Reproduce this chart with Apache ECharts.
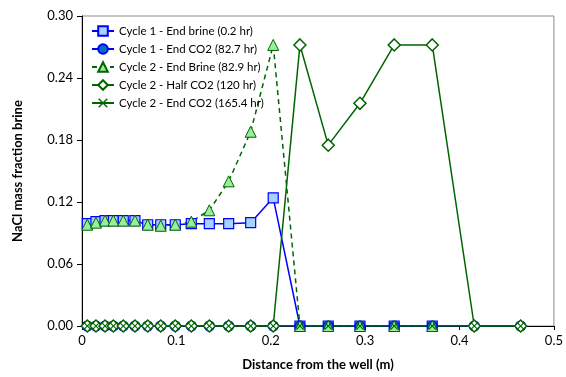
<!DOCTYPE html>
<html>
<head>
<meta charset="utf-8">
<script src="https://cdn.jsdelivr.net/npm/echarts@6/dist/echarts.min.js"></script>
<style>
  html, body { margin: 0; padding: 0; background: #fff; }
  #nacl-chart { width: 566px; height: 377px; }
</style>
</head>
<body>
<div id="nacl-chart"></div>
<script>
// distance from the well (m), one entry per grid cell
const distance = [0.0056, 0.0148, 0.0244, 0.0332, 0.0437, 0.0561, 0.0696, 0.0834, 0.0988, 0.1158,
  0.1349, 0.1554, 0.1787, 0.2026, 0.2309, 0.2609, 0.2945, 0.3308, 0.3711, 0.4156, 0.4647]

const cycle1EndBrine = [0.099, 0.101, 0.102, 0.102, 0.102, 0.102, 0.098, 0.098, 0.098, 0.099,
  0.099, 0.099, 0.100, 0.124, 0, 0, 0, 0, 0]
const cycle1EndCO2 = [0, 0, 0, 0, 0, 0, 0, 0, 0, 0, 0, 0, 0, 0, 0, 0, 0, 0, 0, 0, 0]
const cycle2EndBrine = [0.098, 0.100, 0.102, 0.102, 0.102, 0.102, 0.098, 0.097, 0.098, 0.101,
  0.112, 0.140, 0.188, 0.272, 0, 0, 0, 0, 0]
const cycle2HalfCO2 = [0, 0, 0, 0, 0, 0, 0, 0, 0, 0, 0, 0, 0, 0, 0.272, 0.175, 0.2155, 0.272, 0.272, 0, 0]
const cycle2EndCO2 = [0, 0, 0, 0, 0, 0, 0, 0, 0, 0, 0, 0, 0, 0, 0, 0, 0, 0, 0, 0, 0]

const seriesNames = [
  'Cycle 1 - End brine (0.2 hr)',
  'Cycle 1 - End CO2 (82.7 hr)',
  'Cycle 2 - End Brine (82.9 hr)',
  'Cycle 2 - Half CO2 (120 hr)',
  'Cycle 2 - End CO2 (165.4 hr)'
]

const xTicks = [0, 0.1, 0.2, 0.3, 0.4, 0.5]
const yTicks = [0, 0.06, 0.12, 0.18, 0.24, 0.30]

const FONT = 'Lato, "Open Sans", sans-serif'
const DARK_GREEN = '#006400'
const crossPath = 'path://M0,1 L1,0 L5,4 L9,0 L10,1 L6,5 L10,9 L9,10 L5,6 L1,10 L0,9 L4,5 Z'

function pairs(values) {
  return values.map((v, i) => [distance[i], v])
}

let myChart = echarts.init(document.getElementById('nacl-chart'))
myChart.setOption({
  animation: false,
  textStyle: { fontFamily: FONT },
  grid: {
    left: 82,
    right: 12,
    top: 16,
    bottom: 51,
    show: true,
    borderColor: '#8c8c8c',
    borderWidth: 1
  },
  legend: {
    orient: 'vertical',
    left: 86,
    top: 20,
    itemWidth: 22,
    itemHeight: 12,
    itemGap: 6,
    data: seriesNames,
    textStyle: { fontSize: 11.5, color: '#000', fontFamily: FONT }
  },
  xAxis: {
    type: 'value',
    min: xTicks[0],
    max: xTicks[xTicks.length - 1],
    interval: 0.1,
    name: 'Distance from the well (m)',
    nameLocation: 'middle',
    nameGap: 32,
    nameTextStyle: { fontSize: 13, fontWeight: 'bold', color: '#000' },
    axisLine: { lineStyle: { color: '#000', width: 1 } },
    axisTick: { show: true, length: 4, lineStyle: { color: '#000' } },
    axisLabel: {
      fontSize: 13,
      color: '#000',
      margin: 8,
      formatter: v => (v === 0 ? '0' : v.toFixed(1))
    },
    splitLine: { show: false }
  },
  yAxis: {
    type: 'value',
    min: yTicks[0],
    max: yTicks[yTicks.length - 1],
    interval: 0.06,
    name: 'NaCl mass fraction brine',
    nameLocation: 'middle',
    nameGap: 58,
    nameTextStyle: { fontSize: 13, fontWeight: 'bold', color: '#000' },
    axisLine: { show: true, lineStyle: { color: '#000', width: 1 } },
    axisTick: { show: true, length: 5, lineStyle: { color: '#000' } },
    axisLabel: {
      fontSize: 13,
      color: '#000',
      margin: 9,
      formatter: v => v.toFixed(2)
    },
    splitLine: { show: false }
  },
  series: [
    {
      name: seriesNames[0],
      type: 'line',
      data: pairs(cycle1EndBrine),
      symbol: 'rect',
      symbolSize: 10,
      lineStyle: { color: '#0000ff', width: 1.5 },
      itemStyle: { color: '#a6d2ff', borderColor: '#0000ff', borderWidth: 1.2 }
    },
    {
      name: seriesNames[1],
      type: 'line',
      data: pairs(cycle1EndCO2),
      symbol: 'circle',
      symbolSize: 10,
      lineStyle: { color: '#0000ff', width: 1.5 },
      itemStyle: { color: '#0070c0', borderColor: '#0000ff', borderWidth: 1.2 }
    },
    {
      name: seriesNames[2],
      type: 'line',
      data: pairs(cycle2EndBrine),
      symbol: 'triangle',
      symbolSize: 11,
      lineStyle: { color: DARK_GREEN, width: 1.5, type: [5, 4] },
      itemStyle: { color: '#99ee99', borderColor: DARK_GREEN, borderWidth: 1 }
    },
    {
      name: seriesNames[3],
      type: 'line',
      data: pairs(cycle2HalfCO2),
      symbol: 'diamond',
      symbolSize: 12,
      lineStyle: { color: DARK_GREEN, width: 1.5 },
      itemStyle: { color: '#ffffff', borderColor: DARK_GREEN, borderWidth: 1.5 }
    },
    {
      name: seriesNames[4],
      type: 'line',
      data: pairs(cycle2EndCO2),
      symbol: crossPath,
      symbolSize: 8,
      lineStyle: { color: DARK_GREEN, width: 1.5 },
      itemStyle: { color: DARK_GREEN, borderWidth: 0 }
    }
  ]
})
</script>
</body>
</html>
